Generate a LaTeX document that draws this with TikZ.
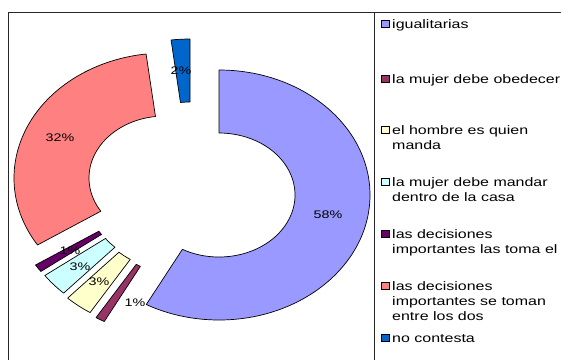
\documentclass[tikz,border=0pt]{standalone}
\usepackage{fontspec}
\setmainfont{Liberation Sans}
\newfontfamily\chartfont[FakeStretch=1.3]{Liberation Sans}
\definecolor{cIgual}{HTML}{9999FF}
\definecolor{cObed}{HTML}{993366}
\definecolor{cHombre}{HTML}{FFFFCC}
\definecolor{cMandar}{HTML}{CCFFFF}
\definecolor{cEl}{HTML}{660066}
\definecolor{cDos}{HTML}{FF8080}
\definecolor{cNoC}{HTML}{0066CC}
\newcommand{\donutpiece}[5]{%
  \begin{scope}[shift={(219,165)},shift={(#1,#2)}]
    \filldraw[piece,fill=#5] (#3:151 and 125)
      arc[start angle=#3,end angle=#4,x radius=151,y radius=125]
      -- (#4:76 and 62)
      arc[start angle=#4,end angle=#3,x radius=76,y radius=62] -- cycle;
  \end{scope}}
\newcommand{\legline}[1]{\begin{tabular}[t]{@{}l@{}}#1\end{tabular}}
\begin{document}
\begin{tikzpicture}[x=1pt,y=1pt,
  piece/.style={draw=black,line width=0.7pt,line join=round},
  pct/.style={font=\fontsize{11}{13}\chartfont,inner sep=0pt,text=black},
  legtext/.style={font=\fontsize{12.3}{15}\chartfont,inner sep=0pt,anchor=base west},
  legmark/.style={draw=black,line width=0.6pt,minimum width=8pt,minimum height=7pt,inner sep=0pt},
  frameline/.style={draw=black!85,line width=1.2pt}]
\useasboundingbox[fill=white] (0,0) rectangle (561,360);
% frame
\coordinate (ftl) at (8.5,347.5);
\coordinate (ftr) at (561,347.5);
\coordinate (fbl) at (8.5,0);
\coordinate (fmt) at (374.5,347.5);
\coordinate (fmb) at (374.5,0);
\draw[frameline] (fbl) -- (ftl) -- (ftr);
\draw[frameline] (fmt) -- (fmb);
% donut pieces
\donutpiece{0}{0}{90}{-118.8}{cIgual}
\donutpiece{-42}{-17}{-118.8}{-122.4}{cObed}
\donutpiece{-48}{-12}{-122.4}{-133.2}{cHombre}
\donutpiece{-52}{-7}{-133.2}{-144}{cMandar}
\donutpiece{-56}{-3}{-144}{-147.6}{cEl}
\donutpiece{-54}{17}{-147.6}{-262.8}{cDos}
\donutpiece{-29}{31}{-262.8}{-270}{cNoC}
% percentage labels
\node[pct] (l58) at (328,145) {58\%};
\node[pct] (l32) at (60,222) {32\%};
\node[pct] (l2) at (181,289) {2\%};
\node[pct] (l1a) at (70,109) {1\%};
\node[pct] (l3a) at (80,93) {3\%};
\node[pct] (l3b) at (99,78) {3\%};
\node[pct] (l1b) at (135,57) {1\%};
% legend
\node[legmark,fill=cIgual] (m1) at (385,336.5) {};
\node[legtext] (t1) at (392,332) {\legline{igualitarias}};
\node[legmark,fill=cObed] (m2) at (385,281.5) {};
\node[legtext] (t2) at (392,277) {\legline{la mujer debe obedecer}};
\node[legmark,fill=cHombre] (m3) at (385,230.5) {};
\node[legtext] (t3) at (392,226) {\legline{el hombre es quien\\manda}};
\node[legmark,fill=cMandar] (m4) at (385,178.5) {};
\node[legtext] (t4) at (392,174) {\legline{la mujer debe mandar\\dentro de la casa}};
\node[legmark,fill=cEl] (m5) at (385,126.5) {};
\node[legtext] (t5) at (392,122) {\legline{las decisiones\\importantes las toma el}};
\node[legmark,fill=cDos] (m6) at (385,74.5) {};
\node[legtext] (t6) at (392,70) {\legline{las decisiones\\importantes se toman\\entre los dos}};
\node[legmark,fill=cNoC] (m7) at (385,22.5) {};
\node[legtext] (t7) at (392,18) {\legline{no contesta}};
\end{tikzpicture}
\end{document}
